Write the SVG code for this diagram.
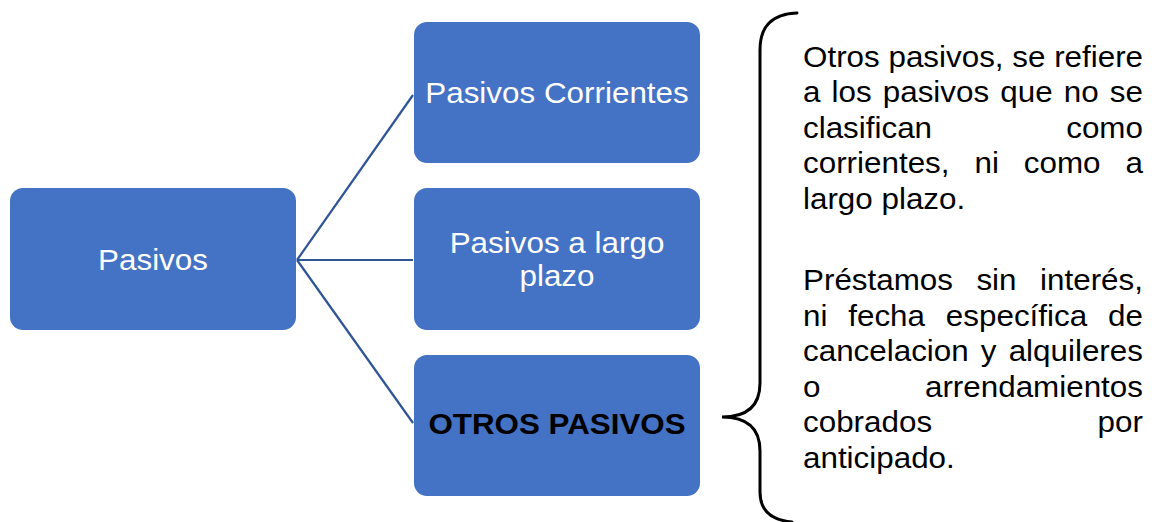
<svg xmlns="http://www.w3.org/2000/svg" width="1156" height="522" viewBox="0 0 1156 522">
<style>
.box{fill:#4472C4;}
.t{font-family:"Liberation Sans",Arial,sans-serif;font-size:30px;}
.w{fill:#FFFFFF;}
.b{fill:#000000;font-weight:bold;}
.p{fill:#000000;}
.conn{stroke:#2F5597;stroke-width:2.2;fill:none;}
.brace{stroke:#000000;stroke-width:3;fill:none;stroke-linecap:round;}
</style>
<rect width="1156" height="522" fill="#FFFFFF"/>
<g id="connectors">
<line class="conn" x1="297" y1="260" x2="413" y2="95"/>
<line class="conn" x1="297" y1="260" x2="413" y2="260"/>
<line class="conn" x1="297" y1="260" x2="413" y2="423"/>
</g>
<g id="node-pasivos">
<rect class="box" x="10" y="188" width="286" height="142" rx="13"/>
<g transform="translate(153 0) scale(1.047 1)"><text class="t w" x="0" y="270" text-anchor="middle">Pasivos</text></g>
</g>
<g id="node-corrientes">
<rect class="box" x="414" y="22" width="286" height="141" rx="13"/>
<g transform="translate(557 0) scale(1.047 1)"><text class="t w" x="0" y="103" text-anchor="middle">Pasivos Corrientes</text></g>
</g>
<g id="node-largo">
<rect class="box" x="414" y="188" width="286" height="142" rx="13"/>
<g transform="translate(557 0) scale(1.047 1)"><text class="t w" text-anchor="middle"><tspan x="0" y="253">Pasivos a largo</tspan><tspan x="0" y="286">plazo</tspan></text></g>
</g>
<g id="node-otros">
<rect class="box" x="414" y="355" width="286" height="141" rx="13"/>
<g transform="translate(557 0) scale(1.045 1)"><text class="t b" x="0" y="434" text-anchor="middle">OTROS PASIVOS</text></g>
</g>
<g id="brace">
<path class="brace" d="M797,13 C772,14 760,26 760,50 L760,383 C760,405 748,417 722,417 C748,417 760,429 760,451 L760,492 C760,510 770,520 792,522"/>
</g>
<g id="description" transform="translate(803 0) scale(1.0467 1)">
<text class="t p" x="0" y="67">Otros pasivos, se refiere</text>
<text class="t p" y="102.5"><tspan x="0">a</tspan><tspan x="27.3">los</tspan><tspan x="76.2">pasivos</tspan><tspan x="188.5">que</tspan><tspan x="249.2">no</tspan><tspan x="293.1">se</tspan></text>
<text class="t p" y="138"><tspan x="0">clasifican</tspan><tspan x="324.8" text-anchor="end">como</tspan></text>
<text class="t p" y="173.5"><tspan x="0">corrientes,</tspan><tspan x="163.8">ni</tspan><tspan x="211">como</tspan><tspan x="324.8" text-anchor="end">a</tspan></text>
<text class="t p" x="0" y="209">largo plazo.</text>
<text class="t p" y="290.5"><tspan x="0">Préstamos</tspan><tspan x="165.7">sin</tspan><tspan x="324.8" text-anchor="end">interés,</tspan></text>
<text class="t p" y="326"><tspan x="0">ni</tspan><tspan x="43.2">fecha</tspan><tspan x="136.5">específica</tspan><tspan x="324.8" text-anchor="end">de</tspan></text>
<text class="t p" y="361.5"><tspan x="0">cancelacion</tspan><tspan x="169.9">y</tspan><tspan x="324.8" text-anchor="end">alquileres</tspan></text>
<text class="t p" y="397"><tspan x="0">o</tspan><tspan x="324.8" text-anchor="end">arrendamientos</tspan></text>
<text class="t p" y="432.5"><tspan x="0">cobrados</tspan><tspan x="324.8" text-anchor="end">por</tspan></text>
<text class="t p" x="0" y="468.5">anticipado.</text>
</g>
</svg>
